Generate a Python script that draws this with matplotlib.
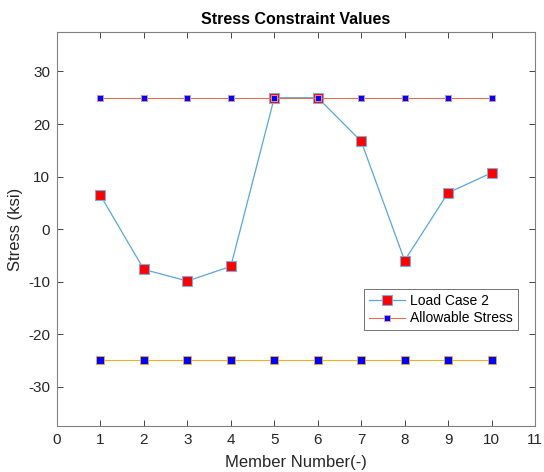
import matplotlib
matplotlib.use("Agg")
import matplotlib.pyplot as plt

members = [1, 2, 3, 4, 5, 6, 7, 8, 9, 10]
load_case_2 = [6.4, -7.7, -9.9, -7.1, 25.0, 25.0, 16.7, -6.0, 6.9, 10.7]
allow_upper = [25, 25, 25, 25, 25, 25, 25, 25, 25, 25]
allow_lower = [-25, -25, -25, -25, -25, -25, -25, -25, -25, -25]
xticks = [0, 1, 2, 3, 4, 5, 6, 7, 8, 9, 10, 11]
yticks = [-30, -20, -10, 0, 10, 20, 30]

plt.rcParams['font.family'] = ['Liberation Sans', 'DejaVu Sans']
plt.rcParams['axes.unicode_minus'] = False

fig = plt.figure(figsize=(5.44, 4.72), dpi=100)
ax = fig.add_axes([0.1048, 0.0975, 0.8787, 0.8345])

ax.plot(members, allow_upper, '-s', color='#E07050', lw=0.8,
        markerfacecolor='#0000FF', markeredgecolor='#E8A090', markersize=4.0,
        markeredgewidth=0.6, label='Allowable Stress', zorder=2)
ax.plot(members, allow_lower, '-s', color='#EDB120', lw=0.8,
        markerfacecolor='#0000FF', markeredgecolor='#EDB120', markersize=5.5,
        markeredgewidth=0.6, zorder=2)
ax.plot(members, load_case_2, '-s', color='#5AA5DC', lw=0.9,
        markerfacecolor='#FF0000', markeredgecolor='#7AAEDC', markersize=7.5,
        markeredgewidth=0.8, label='Load Case 2', zorder=1)
# redraw upper markers on top of load case markers
ax.plot(members, allow_upper, 's', linestyle='none',
        markerfacecolor='#0000FF', markeredgecolor='#E8A090', markersize=4.0,
        markeredgewidth=0.6, zorder=3)

ax.set_xlim(0, 11)
ax.set_ylim(-37.5, 37.5)
ax.set_xticks(xticks)
ax.set_yticks(yticks)
ax.tick_params(direction='in', top=True, right=True, length=4, width=0.6,
               colors='#262626', labelsize=11, labelcolor='#262626', pad=5)
for s in ax.spines.values():
    s.set_color('#808080')
    s.set_linewidth(0.8)

ax.set_title('Stress Constraint Values', fontsize=11.5, fontweight='bold', pad=6)
ax.set_xlabel('Member Number(-)', fontsize=12, color='#262626', labelpad=6)
ax.set_ylabel('Stress (ksi)', fontsize=12, color='#262626', labelpad=4)

handles, labels = ax.get_legend_handles_labels()
order = [1, 0]
leg = ax.legend([handles[i] for i in order], [labels[i] for i in order],
                loc='lower left', bbox_to_anchor=(0.6416, 0.243),
                fontsize=10, frameon=True, fancybox=False, borderpad=0.35,
                handlelength=2.6, handletextpad=0.4, labelspacing=0.25,
                borderaxespad=0)
leg.get_frame().set_edgecolor('#333333')
leg.get_frame().set_linewidth(0.6)

fig.savefig('out.png', dpi=100)
